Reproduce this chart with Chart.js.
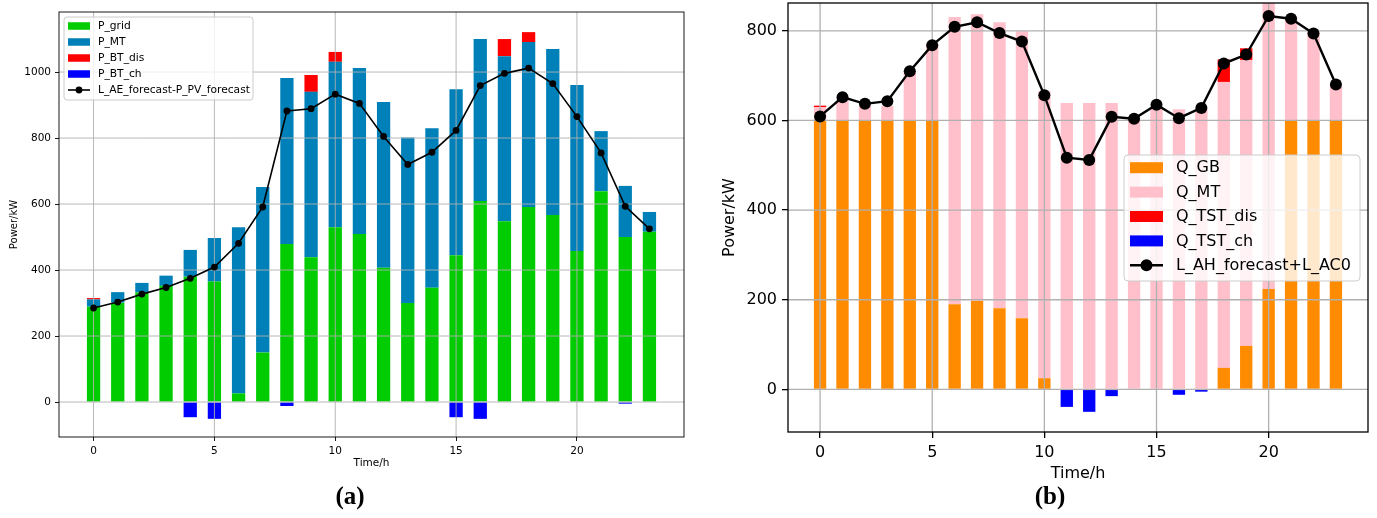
<!DOCTYPE html>
<html>
<head>
<meta charset="utf-8">
<script src="https://cdn.jsdelivr.net/npm/chart.js@4.4.1/dist/chart.umd.min.js"></script>
<style>
  body { margin: 0; background: #fff; width: 1377px; height: 518px; position: relative; overflow: hidden; }
  canvas { position: absolute; top: 0; }
  #chartA { left: 0; }
  #chartB { left: 690px; }
  .cap { position: absolute; top: 482px; height: 30px; line-height: 30px; font: bold 25px "Liberation Serif", serif; transform: translateX(-50%); color: #000; }
</style>
</head>
<body>
<canvas id="chartA" width="700" height="518"></canvas>
<canvas id="chartB" width="687" height="518"></canvas>
<div class="cap" style="left:350px">(a)</div>
<div class="cap" style="left:1050px">(b)</div>
<script>
const hours = [0,1,2,3,4,5,6,7,8,9,10,11,12,13,14,15,16,17,18,19,20,21,22,23];
const xTicks = [0, 5, 10, 15, 20];

// (a) electric side
const pGrid  = [289, 301, 332, 352, 380, 365, 26, 150, 479, 439, 530, 509, 407, 300, 346, 445, 609, 548, 591, 567, 458, 639, 500, 516];
const pMT    = [22, 32, 29, 31, 81, 132, 504, 502, 503, 501, 501, 503, 502, 502, 484, 503, 491, 500, 500, 503, 503, 182, 155, 60];
const pBTdis = [4, 0, 0, 0, 0, 0, 0, 0, 0, 51, 30, 0, 0, 0, 0, 0, 0, 52, 30, 0, 0, 0, 0, 0];
const pBTch  = [0, 0, 0, 0, -46, -51, 0, 0, -12, 0, 0, 0, 0, 0, 0, -46, -51, 0, 0, 0, 0, 0, -5, 0];
const elecNet = [285, 303, 327, 347, 375, 409, 481, 591, 882, 889, 933, 905, 805, 720, 757, 823, 959, 996, 1012, 965, 865, 755, 593, 525];
const yTicksA = [0, 200, 400, 600, 800, 1000];

// (b) heat side
const qGB    = [600, 600, 600, 600, 600, 600, 190, 197, 181, 159, 25, 0, 0, 0, 0, 0, 0, 0, 48, 97, 224, 600, 600, 600];
const qMT    = [30, 45, 32, 32, 111, 168, 641, 640, 638, 640, 640, 639, 639, 639, 601, 630, 625, 625, 638, 638, 640, 230, 198, 77];
const qTSTdis = [3, 0, 0, 0, 0, 0, 0, 0, 0, 0, 0, 0, 0, 0, 0, 0, 0, 0, 50, 26, 0, 0, 0, 0];
const qTSTch = [0, 0, 0, 0, 0, 0, 0, 0, 0, 0, 0, -39, -50, -15, 0, 0, -12, -5, 0, 0, 0, 0, 0, 0];
const heatLoad = [609, 652, 637, 643, 710, 768, 809, 819, 795, 776, 656, 517, 512, 608, 604, 635, 605, 628, 727, 747, 833, 827, 794, 680];
const yTicksB = [0, 200, 400, 600, 800];

// grid goes above the bars but under the line, frame on top (matplotlib look)
const mplGrid = {
    id: 'mplGrid',
    beforeDatasetDraw(chart, args, opts) {
        if (chart.data.datasets[args.index].type !== 'line') return;
        const {ctx, chartArea: a, scales: {x, y}} = chart;
        ctx.save();
        ctx.strokeStyle = '#b0b0b0';
        ctx.lineWidth = opts.width;
        ctx.beginPath();
        x.ticks.forEach(t => {
            const px = x.getPixelForValue(t.value);
            ctx.moveTo(px, a.top); ctx.lineTo(px, a.bottom);
        });
        y.ticks.forEach(t => {
            const py = y.getPixelForValue(t.value);
            ctx.moveTo(a.left, py); ctx.lineTo(a.right, py);
        });
        ctx.stroke();
        ctx.restore();
    },
    afterDatasetsDraw(chart, args, opts) {
        const {ctx, chartArea: a} = chart;
        ctx.save();
        ctx.strokeStyle = '#000';
        ctx.lineWidth = opts.frame;
        ctx.strokeRect(a.left, a.top, a.right - a.left, a.bottom - a.top);
        ctx.restore();
    }
};

const boxLegend = {
    id: 'boxLegend',
    afterDraw(chart, args, o) {
        const ctx = chart.ctx;
        ctx.save();
        ctx.beginPath();
        ctx.roundRect(o.x, o.y, o.w, o.h, o.r);
        ctx.fillStyle = 'rgba(255,255,255,0.8)';
        ctx.fill();
        ctx.strokeStyle = '#cccccc';
        ctx.lineWidth = 1;
        ctx.stroke();
        ctx.font = o.font + 'px "DejaVu Sans"';
        ctx.textBaseline = 'middle';
        chart.data.datasets.forEach((ds, i) => {
            const cy = o.row0 + o.rowH * i;
            if (ds.type === 'line') {
                ctx.strokeStyle = '#000';
                ctx.lineWidth = ds.borderWidth;
                ctx.beginPath();
                ctx.moveTo(o.swX, cy); ctx.lineTo(o.swX + o.swW, cy);
                ctx.stroke();
                ctx.fillStyle = '#000';
                ctx.beginPath();
                ctx.arc(o.swX + o.swW / 2, cy, ds.pointRadius, 0, Math.PI * 2);
                ctx.fill();
            } else {
                ctx.fillStyle = ds.backgroundColor;
                ctx.fillRect(o.swX, cy - o.swH / 2, o.swW, o.swH);
            }
            ctx.fillStyle = '#000';
            ctx.fillText(ds.label, o.textX, cy + 0.5);
        });
        ctx.restore();
    }
};

function barSet(label, data, color) {
    return { label, data, backgroundColor: color, borderWidth: 0, order: 1,
             categoryPercentage: 1, barPercentage: 0.55 };
}

function lineSet(label, data, lw, r) {
    return { type: 'line', label, data, stack: 'line', order: 0,
             borderColor: '#000', backgroundColor: '#000', borderWidth: lw,
             pointRadius: r, pointBackgroundColor: '#000', pointBorderColor: '#000',
             pointBorderWidth: 0, tension: 0 };
}

function makeChart(id, cfg) {
    const f = { family: 'DejaVu Sans', size: cfg.font };
    return new Chart(document.getElementById(id), {
        type: 'bar',
        data: { labels: hours, datasets: cfg.datasets },
        options: {
            responsive: false,
            animation: false,
            layout: { padding: cfg.pad, autoPadding: false },
            plugins: {
                legend: { display: false },
                tooltip: { enabled: false },
                mplGrid: { width: cfg.gridW, frame: cfg.frameW },
                boxLegend: cfg.legend
            },
            scales: {
                x: {
                    type: 'linear', stacked: true, offset: false, min: -1.43, max: 24.43,
                    afterBuildTicks: s => { s.ticks = xTicks.map(v => ({ value: v })); },
                    afterFit: s => { s.height = cfg.xH; s.paddingLeft = 0; s.paddingRight = 0; },
                    grid: { offset: false, drawOnChartArea: false, color: '#000', tickLength: cfg.tickLen, lineWidth: cfg.frameW },
                    border: { display: false },
                    ticks: { color: '#000', font: f, padding: cfg.tickPad, maxRotation: 0, autoSkip: false, callback: v => String(v) },
                    title: { display: true, text: 'Time/h', color: '#000', font: f, padding: { top: 4, bottom: 4 } }
                },
                y: {
                    stacked: true, min: cfg.yMin, max: cfg.yMax,
                    afterBuildTicks: s => { s.ticks = cfg.yTicks.map(v => ({ value: v })); },
                    afterFit: s => { s.width = cfg.yW; s.paddingTop = 0; s.paddingBottom = 0; },
                    grid: { drawOnChartArea: false, color: '#000', tickLength: cfg.tickLen, lineWidth: cfg.frameW },
                    border: { display: false },
                    ticks: { color: '#000', font: f, padding: cfg.tickPad, callback: v => String(v) },
                    title: { display: true, text: 'Power/kW', color: '#000', font: { family: 'DejaVu Sans', size: cfg.yTitleFont }, padding: { top: cfg.yTitlePad, bottom: 0 } }
                }
            }
        },
        plugins: [mplGrid, boxLegend]
    });
}

makeChart('chartA', {
    datasets: [
        barSet('P_grid', pGrid, '#00cc00'),
        barSet('P_MT', pMT, '#0080b8'),
        barSet('P_BT_dis', pBTdis, '#ff0000'),
        barSet('P_BT_ch', pBTch, '#0000ff'),
        lineSet('L_AE_forecast-P_PV_forecast', elecNet, 1.6, 3.4)
    ],
    font: 10.5, yTitleFont: 10, yTitlePad: 8,
    pad: { left: 0, right: 16, top: 12, bottom: 44 },
    xH: 37, yW: 59, tickLen: 4, tickPad: 4,
    yMin: -106, yMax: 1182, yTicks: yTicksA,
    gridW: 0.9, frameW: 0.9,
    legend: { x: 64, y: 17, w: 189, h: 83, r: 3, row0: 26, rowH: 16, swX: 68, swW: 22, swH: 7.5, textX: 98, font: 10.7 }
});

makeChart('chartB', {
    datasets: [
        barSet('Q_GB', qGB, '#ff8c00'),
        barSet('Q_MT', qMT, '#ffc0cb'),
        barSet('Q_TST_dis', qTSTdis, '#ff0000'),
        barSet('Q_TST_ch', qTSTch, '#0000ff'),
        lineSet('L_AH_forecast+L_AC0', heatLoad, 2.4, 6)
    ],
    font: 16, yTitleFont: 16, yTitlePad: 30,
    pad: { left: 0, right: 9, top: 3, bottom: 31 },
    xH: 55, yW: 98, tickLen: 6, tickPad: 5,
    yMin: -95, yMax: 862, yTicks: yTicksB,
    gridW: 1.3, frameW: 1.3,
    legend: { x: 434, y: 155, w: 236, h: 126, r: 4, row0: 167.7, rowH: 24.4, swX: 440, swW: 33, swH: 11, textX: 486, font: 16 }
});
</script>
</body>
</html>
